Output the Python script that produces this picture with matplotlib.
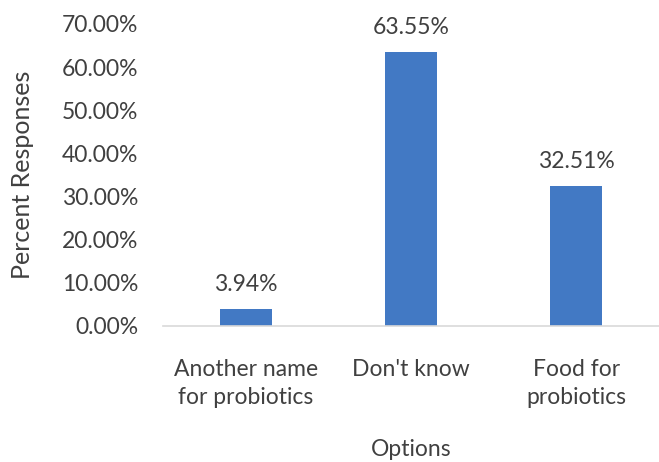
import matplotlib
matplotlib.use("Agg")
import matplotlib.pyplot as plt
from matplotlib.ticker import FuncFormatter

categories = ["Another name\nfor probiotics", "Don't know", "Food for\nprobiotics"]
values = [3.94, 63.55, 32.51]
yticks = [0, 10, 20, 30, 40, 50, 60, 70]

plt.rcParams["font.family"] = ["Lato", "DejaVu Sans"]
text_color = "#404040"
fs = 16.5

fig = plt.figure(figsize=(6.59, 4.62), dpi=100)
ax = fig.add_axes([163 / 659, 1 - 326 / 462, (659 - 163) / 659, (326 - 24) / 462])

x = range(len(categories))
bars = ax.bar(x, values, width=0.315, color="#4279C4")

ax.set_xlim(-0.5, 2.5)
ax.set_ylim(0, 70)
ax.set_yticks(yticks)
ax.yaxis.set_major_formatter(FuncFormatter(lambda v, p: f"{v:.2f}%"))
ax.set_xticks(list(x))
ax.set_xticklabels(categories, fontsize=fs, color=text_color, linespacing=1.4)
ax.tick_params(axis="y", labelsize=fs, labelcolor=text_color, length=0, pad=18)
ax.tick_params(axis="x", length=0, pad=24)

for side in ["top", "right", "left"]:
    ax.spines[side].set_visible(False)
ax.spines["bottom"].set_color("#D9D9D9")
ax.spines["bottom"].set_linewidth(1.2)

for b, v in zip(bars, values):
    ax.annotate(f"{v:.2f}%", (b.get_x() + b.get_width() / 2, v),
                xytext=(0, 10), textcoords="offset points",
                ha="center", va="bottom", fontsize=fs, color=text_color)

ax.set_ylabel("Percent Responses", fontsize=18, color=text_color, labelpad=20)
ax.set_xlabel("Options", fontsize=fs, color=text_color, labelpad=22)

fig.savefig("out.png", dpi=100)
